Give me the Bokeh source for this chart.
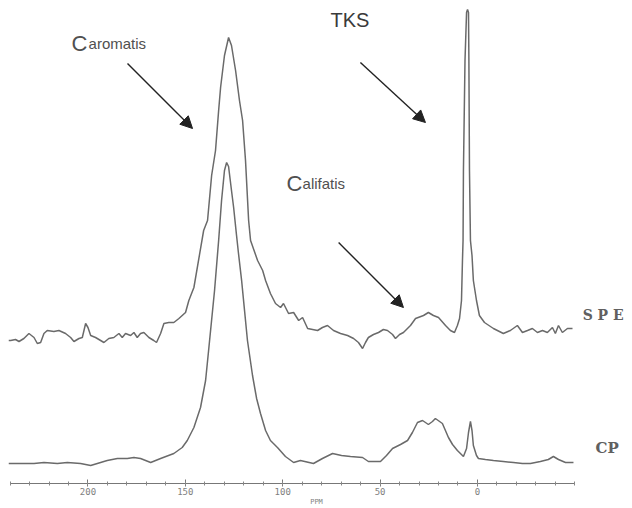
from bokeh.plotting import figure
from bokeh.models import Range1d, FixedTicker, Label, Arrow, NormalHead
from bokeh.embed import file_html
from bokeh.resources import INLINE

# ---- data (chemical shift in ppm, relative intensity) ----
spe_ppm = [240.8, 239.7, 237.2, 235.4, 232.9, 230.3, 227.7, 226.0, 224.3, 222.6,
           220.9, 217.5, 214.9, 211.5, 208.9, 207.2, 204.6, 202.9, 201.2, 200.0,
           198.6, 196.1, 193.5, 191.8, 189.3, 186.7, 184.1, 182.4, 180.7, 178.1,
           176.4, 174.7, 173.0, 171.3, 168.7, 166.2, 164.8, 162.7, 161.0, 158.5,
           155.9, 153.3, 151.6, 149.9, 148.2, 145.6, 140.6, 138.6, 136.5, 134.5,
           132.9, 131.9, 129.9, 127.8, 126.3, 124.2, 122.2, 120.6, 119.1, 117.5,
           116.5, 112.9, 110.3, 108.8, 106.3, 103.7, 101.1, 99.6, 97.0, 94.4,
           91.8, 89.8, 87.2, 82.1, 79.6, 77.0, 73.9, 70.3, 66.7, 63.6,
           61.1, 59.0, 57.5, 56.0, 53.4, 50.8, 48.3, 46.2, 43.6, 42.1,
           40.0, 38.0, 34.4, 31.8, 27.7, 25.2, 22.6, 20.0, 16.4, 13.9,
           11.8, 10.3, 9.2, 8.2, 7.7, 7.4, 7.2, 6.4, 5.6, 5.1,
           4.6, 4.4, 4.1, 3.6, 2.8, 2.1, 0.5, -1.0, -3.6, -8.2,
           -13.3, -16.9, -20.5, -23.1, -25.7, -28.2, -30.8, -33.4, -35.9, -38.5,
           -40.0, -41.6, -43.6, -46.2, -48.8]
spe_int = [148, 148, 149, 147, 150, 155, 151, 145, 146, 155,
           158, 157, 158, 155, 151, 147, 150, 151, 165, 161,
           153, 151, 148, 146, 150, 151, 155, 151, 155, 153,
           156, 151, 155, 156, 151, 148, 146, 155, 165, 166,
           166, 170, 173, 176, 188, 201, 258, 268, 313, 338,
           378, 401, 433, 451, 443, 418, 388, 368, 328, 268,
           248, 228, 218, 208, 195, 185, 181, 185, 175, 176,
           168, 171, 160, 158, 161, 163, 158, 155, 153, 150,
           146, 140, 146, 151, 154, 156, 159, 158, 154, 150,
           154, 156, 163, 170, 173, 176, 173, 171, 163, 158,
           156, 163, 170, 188, 228, 248, 318, 428, 476, 479,
           476, 428, 318, 248, 233, 208, 188, 173, 166, 160,
           155, 158, 163, 156, 158, 160, 156, 158, 156, 161,
           155, 163, 156, 160, 160]

cp_ppm = [240.8, 239.7, 234.6, 227.7, 222.6, 215.7, 210.6, 203.8, 198.6, 193.5,
          190.1, 184.9, 179.8, 176.4, 173.0, 167.8, 162.7, 155.9, 151.6, 149.0,
          145.6, 142.2, 139.6, 137.9, 135.0, 132.9, 131.4, 129.9, 128.8, 127.8,
          126.3, 125.2, 123.7, 122.7, 121.1, 119.6, 118.1, 115.5, 113.4, 111.4,
          108.8, 106.3, 102.7, 98.6, 94.4, 90.9, 84.2, 79.6, 74.4, 69.8,
          65.2, 59.0, 56.0, 49.8, 46.7, 43.6, 39.5, 35.9, 33.4, 30.8,
          28.2, 25.2, 23.1, 21.6, 18.0, 14.9, 12.8, 10.3, 7.2, 5.6,
          4.6, 3.6, 2.8, 2.1, 0.5, -0.5, -4.1, -8.2, -13.3, -18.5,
          -23.1, -27.2, -32.3, -36.4, -39.0, -41.6, -45.2, -49.3]
cp_int = [25, 25, 25, 25, 26, 25, 26, 25, 23, 26,
          28, 30, 30, 31, 30, 26, 30, 35, 41, 48,
          61, 81, 108, 141, 198, 248, 288, 318, 326, 322,
          298, 281, 253, 235, 208, 178, 148, 113, 90, 75,
          58, 48, 41, 32, 26, 28, 25, 30, 35, 33,
          32, 31, 27, 27, 33, 40, 44, 48, 56, 66,
          68, 64, 67, 70, 65, 51, 44, 38, 32, 40,
          56, 67, 58, 43, 33, 30, 29, 28, 27, 26,
          25, 25, 27, 29, 32, 29, 26, 26]

major_ticks = [200, 150, 100, 50, 0]
minor_ticks = [240, 230, 220, 210, 200, 190, 180, 170, 160, 150, 140, 130, 120,
               110, 100, 90, 80, 70, 60, 50, 40, 30, 20, 10, 0, -10, -20, -30,
               -40, -50]
axis_bounds = (-50, 240)

LINE = "#6a6a6a"
TXT = "#505050"
ARROW = "#222222"

p = figure(frame_width=616, frame_height=475,
           x_range=Range1d(240.8, -75.5), y_range=Range1d(5, 480),
           output_backend="svg", toolbar_location=None,
           x_axis_location="below", y_axis_location=None,
           min_border_left=8, min_border_right=8, min_border_top=8, min_border_bottom=0,
           outline_line_color=None, background_fill_color="white",
           border_fill_color="white")
p.grid.visible = False

p.line(spe_ppm, spe_int, line_color=LINE, line_width=1.5)
p.line(cp_ppm, cp_int, line_color=LINE, line_width=1.5)

ax = p.xaxis[0]
ax.ticker = FixedTicker(ticks=major_ticks, minor_ticks=minor_ticks)
ax.bounds = axis_bounds
ax.axis_line_color = "#777777"
ax.major_tick_line_color = "#777777"
ax.minor_tick_line_color = "#888888"
ax.major_tick_in = 4
ax.major_tick_out = 3
ax.minor_tick_in = 2
ax.minor_tick_out = 2
ax.major_label_standoff = 1
ax.major_label_text_font = "DejaVu Sans Mono"
ax.major_label_text_font_size = "9px"
ax.major_label_text_color = "#808080"
ax.axis_label = "PPM"
ax.axis_label_standoff = 0
ax.axis_label_text_font = "DejaVu Sans Mono"
ax.axis_label_text_font_size = "7px"
ax.axis_label_text_font_style = "normal"
ax.axis_label_text_color = "#808080"

SANS = "Liberation Sans"


def ctext(x, y, txt, size, color=TXT, font=SANS, style="normal"):
    p.add_layout(Label(x=x, y=y, text=txt, text_font=font, text_font_size=size,
                       text_color=color, text_font_style=style,
                       text_baseline="alphabetic", text_align="left"))


# C_aromatis
ctext(208.4, 445, "C", "22px")
ctext(199.7, 445, "aromatis", "15px")
# C_alifatis
ctext(98.0, 305, "C", "22px")
ctext(89.8, 305, "alifatis", "15px")
# TKS
ctext(75.5, 469, "TKS", "20px", color="#3a3a3a")
# trace labels
ctext(-54.0, 174, "S P E", "14px", color="#606060", font="DejaVu Serif", style="bold")
ctext(-60.6, 41, "CP", "15px", color="#606060", font="DejaVu Serif", style="bold")

for xs, ys, xe, ye in [(179.7, 425, 146.3, 360), (60.1, 426, 26.7, 366), (71.3, 246, 38.0, 181)]:
    p.add_layout(Arrow(end=NormalHead(size=12, fill_color=ARROW, line_color=ARROW),
                       x_start=xs, y_start=ys, x_end=xe, y_end=ye,
                       line_color=ARROW, line_width=1.4))

open("out.html", "w").write(file_html(p, INLINE))
